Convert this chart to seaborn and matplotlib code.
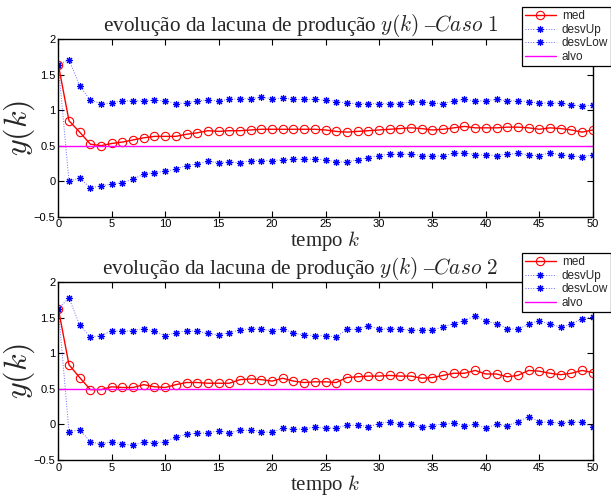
import numpy as np
import pandas as pd
import matplotlib
matplotlib.use("Agg")
import matplotlib.pyplot as plt
import seaborn as sns

k = list(range(51))

med1 = [1.64, 0.85, 0.69, 0.52, 0.50, 0.53, 0.55, 0.58, 0.61, 0.63, 0.63, 0.63, 0.66, 0.68, 0.71, 0.70, 0.71, 0.71, 0.72, 0.73, 0.73, 0.73, 0.73, 0.73, 0.73, 0.72, 0.70, 0.69, 0.70, 0.71, 0.72, 0.73, 0.74, 0.75, 0.74, 0.72, 0.73, 0.75, 0.77, 0.75, 0.75, 0.75, 0.76, 0.76, 0.75, 0.73, 0.75, 0.74, 0.72, 0.69, 0.72]
up1 = [1.64, 1.71, 1.34, 1.14, 1.09, 1.10, 1.13, 1.13, 1.13, 1.14, 1.13, 1.09, 1.10, 1.13, 1.14, 1.13, 1.15, 1.16, 1.16, 1.18, 1.16, 1.17, 1.15, 1.15, 1.15, 1.14, 1.12, 1.10, 1.09, 1.09, 1.09, 1.09, 1.09, 1.12, 1.12, 1.10, 1.09, 1.13, 1.15, 1.13, 1.13, 1.15, 1.13, 1.13, 1.12, 1.10, 1.10, 1.10, 1.07, 1.06, 1.07]
low1 = [1.64, 0.00, 0.04, -0.09, -0.07, -0.04, -0.02, 0.03, 0.10, 0.12, 0.14, 0.17, 0.22, 0.24, 0.28, 0.26, 0.27, 0.26, 0.29, 0.29, 0.29, 0.30, 0.31, 0.31, 0.31, 0.30, 0.27, 0.27, 0.30, 0.33, 0.36, 0.38, 0.38, 0.38, 0.36, 0.35, 0.36, 0.39, 0.40, 0.37, 0.37, 0.36, 0.38, 0.39, 0.37, 0.36, 0.40, 0.37, 0.36, 0.34, 0.37]

med2 = [1.63, 0.84, 0.66, 0.49, 0.49, 0.53, 0.52, 0.52, 0.56, 0.53, 0.52, 0.56, 0.59, 0.59, 0.58, 0.58, 0.58, 0.63, 0.64, 0.63, 0.61, 0.65, 0.61, 0.59, 0.60, 0.60, 0.59, 0.66, 0.67, 0.68, 0.68, 0.69, 0.68, 0.68, 0.65, 0.66, 0.69, 0.72, 0.72, 0.76, 0.71, 0.71, 0.67, 0.69, 0.76, 0.75, 0.72, 0.70, 0.72, 0.76, 0.73]
up2 = [1.63, 1.78, 1.40, 1.23, 1.25, 1.32, 1.31, 1.32, 1.35, 1.31, 1.25, 1.29, 1.32, 1.31, 1.28, 1.26, 1.29, 1.33, 1.35, 1.34, 1.32, 1.35, 1.28, 1.26, 1.25, 1.25, 1.23, 1.34, 1.34, 1.39, 1.34, 1.35, 1.34, 1.33, 1.33, 1.33, 1.37, 1.42, 1.46, 1.53, 1.45, 1.42, 1.35, 1.34, 1.41, 1.46, 1.41, 1.37, 1.41, 1.49, 1.51]
low2 = [1.63, -0.10, -0.08, -0.24, -0.28, -0.24, -0.28, -0.29, -0.25, -0.26, -0.24, -0.18, -0.14, -0.12, -0.12, -0.09, -0.12, -0.08, -0.08, -0.10, -0.11, -0.05, -0.07, -0.06, -0.04, -0.05, -0.05, -0.01, -0.01, -0.03, 0.01, 0.04, 0.00, 0.01, -0.04, -0.02, 0.01, 0.02, -0.02, 0.00, -0.05, 0.00, -0.02, 0.04, 0.11, 0.04, 0.03, 0.02, 0.04, 0.03, -0.04]

alvo = [0.5] * 51

titles = [r"evolução da lacuna de produção $y(k)$ –$\mathit{Caso\ 1}$",
          r"evolução da lacuna de produção $y(k)$ –$\mathit{Caso\ 2}$"]
series_names = ["med", "desvUp", "desvLow", "alvo"]
xticks = list(range(0, 51, 5))
yticks = [-0.5, 0, 0.5, 1, 1.5, 2]
ytick_labels = ["\u22120.5", "0", "0.5", "1", "1.5", "2"]

sns.set_style("ticks")
plt.rcParams["font.family"] = ["Liberation Sans", "DejaVu Sans"]
plt.rcParams["mathtext.fontset"] = "cm"
plt.rcParams["xtick.direction"] = "in"
plt.rcParams["ytick.direction"] = "in"

fig = plt.figure(figsize=(6.11, 4.96), dpi=100)
W, H = 611, 496
ax_pos = [
    [58.3 / W, 1 - 216.7 / H, 534.4 / W, 177.7 / H],
    [58.3 / W, 1 - 460.0 / H, 534.4 / W, 177.7 / H],
]
legend_tops = [7, 253]

datasets = [(med1, up1, low1), (med2, up2, low2)]
star = (8, 2, 0)

for i, (med, up, low) in enumerate(datasets):
    ax = fig.add_axes(ax_pos[i])
    df = pd.DataFrame({"k": k, "med": med, "desvUp": up, "desvLow": low, "alvo": alvo})
    sns.lineplot(data=df, x="k", y="med", ax=ax, color="red", lw=1.0,
                 marker="o", ms=6.0, mfc="none", mec="red", mew=0.8, label="med")
    sns.lineplot(data=df, x="k", y="desvUp", ax=ax, color="#6a6aff", lw=0.7, ls=":",
                 marker=star, ms=5.0, mec="blue", mew=0.8, label="desvUp")
    sns.lineplot(data=df, x="k", y="desvLow", ax=ax, color="#6a6aff", lw=0.7, ls=":",
                 marker=star, ms=5.0, mec="blue", mew=0.8, label="desvLow")
    sns.lineplot(data=df, x="k", y="alvo", ax=ax, color="magenta", lw=1.0, label="alvo")

    ax.set_xlim(0, 50)
    ax.set_ylim(-0.5, 2)
    ax.set_xticks(xticks)
    ax.set_xticklabels([str(t) for t in xticks])
    ax.set_yticks(yticks)
    ax.set_yticklabels(ytick_labels)
    ax.tick_params(axis="both", which="both", labelsize=8, top=True, right=True,
                   length=4, width=0.8, pad=2, colors="black")
    for s in ax.spines.values():
        s.set_visible(True)
        s.set_linewidth(1.0)
        s.set_color("black")

    ax.set_title(titles[i], fontsize=15.3, family=["Liberation Serif"], pad=3,
                 x=(300.5 - 58.3) / 534.4)
    ax.set_xlabel(r"tempo $k$", fontsize=15, family=["Liberation Serif"], labelpad=0)
    ax.set_ylabel(r"$y(k)$", fontsize=23, labelpad=-2)

    leg = ax.legend(loc="upper right", bbox_to_anchor=(611 / W, 1 - legend_tops[i] / H),
                    bbox_transform=fig.transFigure, borderaxespad=0, fancybox=False,
                    edgecolor="black", framealpha=1, fontsize=8.5, labelspacing=0.15,
                    handlelength=2.6, handletextpad=0.5, borderpad=0.25)
    leg.get_frame().set_linewidth(0.9)

fig.savefig("out.png", dpi=100)
